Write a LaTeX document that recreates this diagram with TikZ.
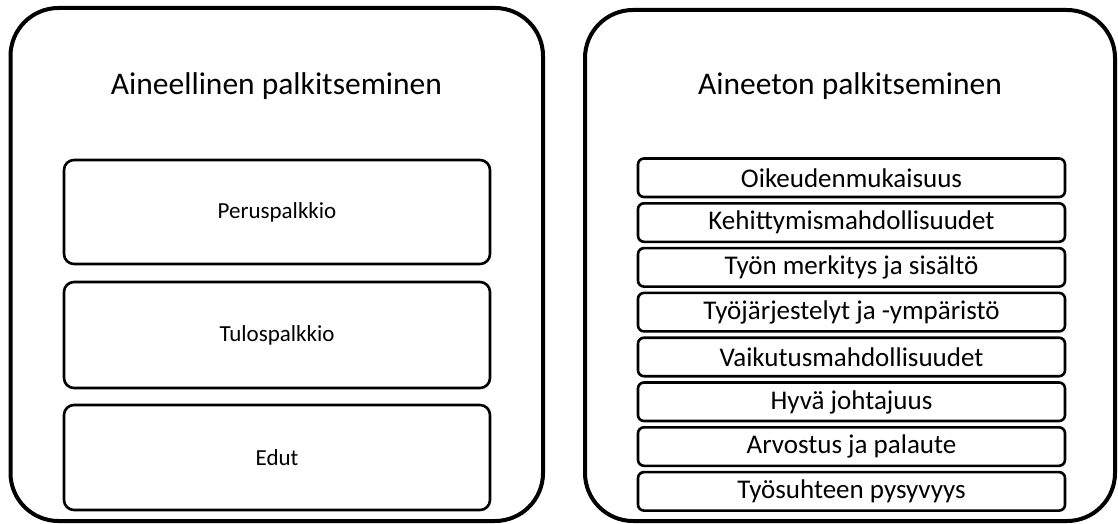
\documentclass[tikz,border=0pt]{standalone}
\usepackage{fontspec}
\setmainfont{Carlito}
\begin{document}
\begin{tikzpicture}[x=1pt,y=-1pt,
  outer/.style={draw=black,line width=4pt,rounded corners=48pt},
  bigbox/.style={draw=black,line width=2.6pt,rounded corners=10pt},
  smallbox/.style={draw=black,line width=2.6pt,rounded corners=6pt},
  title/.style={font=\fontsize{31.5}{36}\selectfont},
  lbl/.style={font=\fontsize{23}{27}\selectfont},
  slbl/.style={font=\fontsize{27}{31}\selectfont}]
\useasboundingbox (0,0) rectangle (1118,524);
% left panel
\draw[outer] (10.5,8) rectangle (543,521);
\node[title,anchor=base] (t1) at (276.5,95) {Aineellinen palkitseminen};
\draw[bigbox] (64,160) rectangle (490,264);
\node[lbl] (b1) at (277,212) {Peruspalkkio};
\draw[bigbox] (64,282) rectangle (490,388);
\node[lbl] (b2) at (277,335) {Tulospalkkio};
\draw[bigbox] (64,405) rectangle (490,510);
\node[lbl] (b3) at (277,457.5) {Edut};
% right panel
\draw[outer] (585,10) rectangle (1115,521);
\node[title,anchor=base] (t2) at (850,95) {Aineeton palkitseminen};
\foreach \t [count=\i from 0] in {Oikeudenmukaisuus,Kehittymismahdollisuudet,Työn merkitys ja sisältö,Työjärjestelyt ja -ympäristö,Vaikutusmahdollisuudet,Hyvä johtajuus,Arvostus ja palaute,Työsuhteen pysyvyys}{
  \pgfmathsetmacro{\ytop}{158.5+44.8*\i}
  \draw[smallbox] (638,\ytop) rectangle (1065,\ytop+38.5);
  \node[slbl] (r\i) at (851.5,\ytop+19.5) {\t};
}
\end{tikzpicture}
\end{document}
